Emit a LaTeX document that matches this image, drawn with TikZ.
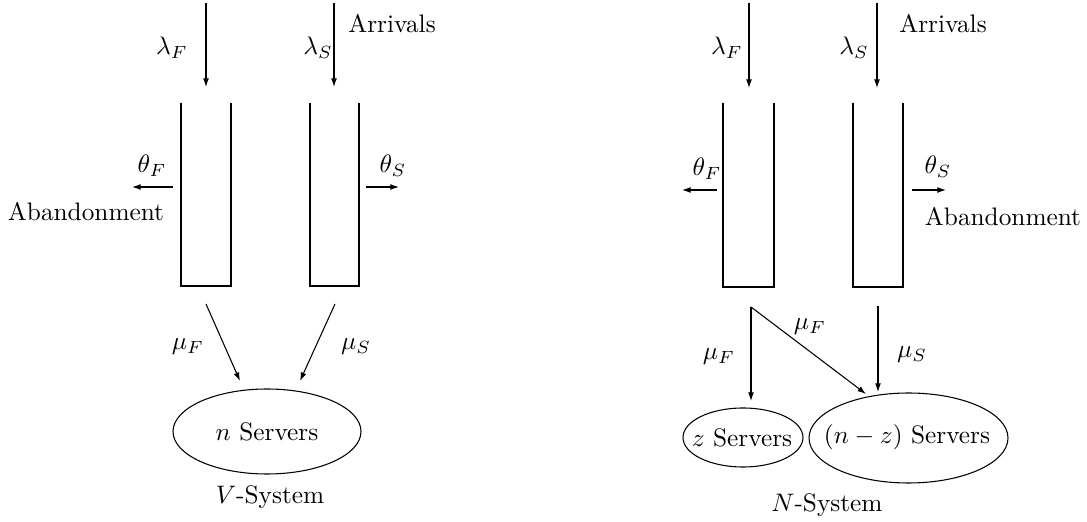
\documentclass[tikz,border=0pt]{standalone}
\usetikzlibrary{arrows.meta}
\begin{document}
\begin{tikzpicture}[x=0.3953pt,y=-0.3953pt,
  arr/.style={-{Latex[length=3.4pt,width=2.3pt]}, line width=0.42pt},
  wall/.style={line width=0.42pt},
  ell/.style={line width=0.42pt},
  lbl/.style={inner sep=0pt}]
\useasboundingbox (0,0) rectangle (1087,522);

% ---------------- V-System ----------------
% queues
\draw[wall] (181,103) -- (181,286) -- (231,286) -- (231,103);
\draw[wall] (310,103) -- (310,286) -- (359,286) -- (359,103);
% arrivals
\coordinate (vaF0) at (206,3);   \coordinate (vaF1) at (206,87);
\coordinate (vaS0) at (334,3);   \coordinate (vaS1) at (334,87);
\draw[arr] (vaF0) -- (vaF1);
\draw[arr] (vaS0) -- (vaS1);
\node[lbl] (vlF) at (172,48) {$\lambda_F$};
\node[lbl] (vlS) at (318,48) {$\lambda_S$};
\node[lbl] (varr) at (392,24) {Arrivals};
% abandonment
\coordinate (vtF0) at (173,187); \coordinate (vtF1) at (132,187);
\coordinate (vtS0) at (366,187); \coordinate (vtS1) at (399,187);
\draw[arr] (vtF0) -- (vtF1);
\draw[arr] (vtS0) -- (vtS1);
\node[lbl] (vthF) at (152,166) {$\theta_F$};
\node[lbl] (vthS) at (393,166) {$\theta_S$};
\node[lbl] (vab) at (86,212) {Abandonment};
% servers
\node[lbl] (vsrv) at (267,431.5) {$n$ Servers};
\draw[ell] (vsrv.center) ellipse [x radius=94, y radius=42.5];
\coordinate (vmF0) at (206,304); \coordinate (vmF1) at (240,381);
\coordinate (vmS0) at (335,304); \coordinate (vmS1) at (300,381);
\draw[arr] (vmF0) -- (vmF1);
\draw[arr] (vmS0) -- (vmS1);
\node[lbl] (vmuF) at (188,347) {$\mu_F$};
\node[lbl] (vmuS) at (356,347) {$\mu_S$};
\node[lbl] (vsys) at (270,497) {$V$-System};

% ---------------- N-System ----------------
\draw[wall] (723,103) -- (723,287) -- (774,287) -- (774,103);
\draw[wall] (853,103) -- (853,287) -- (903,287) -- (903,103);
\coordinate (naF0) at (749,3);   \coordinate (naF1) at (749,88);
\coordinate (naS0) at (877,3);   \coordinate (naS1) at (877,88);
\draw[arr] (naF0) -- (naF1);
\draw[arr] (naS0) -- (naS1);
\node[lbl] (nlF) at (727,48) {$\lambda_F$};
\node[lbl] (nlS) at (854,48) {$\lambda_S$};
\node[lbl] (narr) at (943,24) {Arrivals};
\coordinate (ntF0) at (717,190); \coordinate (ntF1) at (682,190);
\coordinate (ntS0) at (912,190); \coordinate (ntS1) at (946,190);
\draw[arr] (ntF0) -- (ntF1);
\draw[arr] (ntS0) -- (ntS1);
\node[lbl] (nthF) at (707,169) {$\theta_F$};
\node[lbl] (nthS) at (938,167) {$\theta_S$};
\node[lbl] (nab) at (1003,217) {Abandonment};
% servers
\node[lbl] (zsrv) at (742,437.5) {$z$ Servers};
\draw[ell] (743,437.5) ellipse [x radius=60, y radius=29.5];
\node[lbl] (nzsrv) at (907,437) {$(n-z)$ Servers};
\draw[ell] (908.5,438) ellipse [x radius=99.5, y radius=45];
\coordinate (nb) at (751,307);
\coordinate (nbz) at (751,401);
\coordinate (nbd) at (866,394);
\coordinate (nmS0) at (878,306); \coordinate (nmS1) at (878,392);
\draw[arr] (nb) -- (nbz);
\draw[arr] (nb) -- (nbd);
\draw[arr] (nmS0) -- (nmS1);
\node[lbl] (nmuF) at (719,357) {$\mu_F$};
\node[lbl] (nmuFd) at (810,327) {$\mu_F$};
\node[lbl] (nmuS) at (912,355) {$\mu_S$};
\node[lbl] (nsys) at (827,505) {$N$-System};
\end{tikzpicture}
\end{document}
